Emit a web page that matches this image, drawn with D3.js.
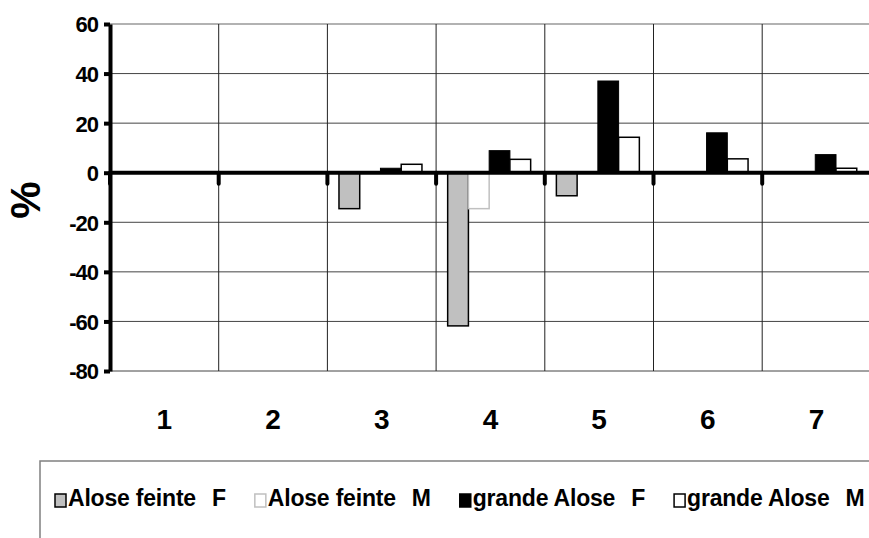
<!DOCTYPE html>
<html>
<head>
<meta charset="utf-8">
<script src="https://cdn.jsdelivr.net/npm/d3@7/dist/d3.min.js"></script>
<style>
  html, body { margin: 0; padding: 0; background: #fff; }
  svg { display: block; font-family: "Liberation Sans", Arial, sans-serif; font-weight: bold; }
</style>
</head>
<body>
<svg id="chart" width="869" height="538"></svg>
<script>
// Categories along the x axis
const categories = ["1", "2", "3", "4", "5", "6", "7"];

// Percentage change per series
const alosefeinteF = [0, 0, -14.5, -61.8, -9.3, 0, 0];
const alosefeinteM = [0, 0, 0, -14.5, 0, 0, 0];
const grandeAloseF = [0, 0, 1.8, 8.9, 37, 16.1, 7.3];
const grandeAloseM = [0, 0, 3.4, 5.4, 14.3, 5.6, 1.8];

// Series names and legend labels
const seriesKeys = ["afF", "afM", "gaF", "gaM"];
const seriesNames = ["Alose feinte", "Alose feinte", "grande Alose", "grande Alose"];
const seriesSex = ["F", "M", "F", "M"];

// Y axis ticks
const yTicks = [-80, -60, -40, -20, 0, 20, 40, 60];

const seriesValues = [alosefeinteF, alosefeinteM, grandeAloseF, grandeAloseM];
const seriesStyle = {
  afF: { fill: "#c0c0c0", stroke: "#000", sw: 1.5 },
  afM: { fill: "#fff", stroke: "#c0c0c0", sw: 1.5 },
  gaF: { fill: "#000", stroke: "#000", sw: 1 },
  gaM: { fill: "#fff", stroke: "#000", sw: 1.5 }
};

const svg = d3.select("#chart");
const plotLeft = 110, plotTop = 24, plotBottom = 371;
const step = 108.7;
const plotRight = plotLeft + step * categories.length;

const x = d3.scaleBand().domain(categories).range([plotLeft, plotRight]).padding(0);
const inner = d3.scaleBand().domain(seriesKeys).range([0, x.bandwidth()])
  .paddingInner(0).paddingOuter(0.62).align(0.45);
const y = d3.scaleLinear().domain([-80, 60]).range([plotBottom, plotTop]);

// Horizontal gridlines
svg.append("g").selectAll("line").data(yTicks).join("line")
  .attr("x1", plotLeft).attr("x2", plotRight)
  .attr("y1", d => y(d)).attr("y2", d => y(d))
  .attr("stroke", d => d === 60 ? "#999" : "#444")
  .attr("stroke-width", d => d === 60 ? 1.5 : 1);

// Vertical gridlines at category boundaries
svg.append("g").selectAll("line").data(categories.slice(1)).join("line")
  .attr("x1", d => x(d)).attr("x2", d => x(d))
  .attr("y1", plotTop).attr("y2", plotBottom)
  .attr("stroke", "#222").attr("stroke-width", 1);

// Bars
const rows = categories.map((c, i) => ({ c, vals: seriesKeys.map((k, j) => ({ k, v: seriesValues[j][i] })) }));
const groups = svg.append("g").selectAll("g").data(rows).join("g")
  .attr("transform", d => `translate(${x(d.c)},0)`);
groups.selectAll("rect").data(d => d.vals.filter(e => e.v !== 0)).join("rect")
  .attr("x", d => inner(d.k))
  .attr("width", inner.bandwidth())
  .attr("y", d => y(Math.max(0, d.v)))
  .attr("height", d => Math.abs(y(d.v) - y(0)))
  .attr("fill", d => seriesStyle[d.k].fill)
  .attr("stroke", d => seriesStyle[d.k].stroke)
  .attr("stroke-width", d => seriesStyle[d.k].sw);

// Zero line with category tick marks below it
svg.append("g").selectAll("line").data(categories).join("line")
  .attr("x1", d => x(d)).attr("x2", d => x(d))
  .attr("y1", y(0)).attr("y2", y(0) + 11)
  .attr("stroke", "#000").attr("stroke-width", 4).attr("stroke-linecap", "round");
svg.append("line")
  .attr("x1", plotLeft).attr("x2", plotRight)
  .attr("y1", y(0)).attr("y2", y(0))
  .attr("stroke", "#000").attr("stroke-width", 4);

// Y axis
const yAxis = svg.append("g").attr("transform", `translate(${plotLeft},0)`)
  .call(d3.axisLeft(y).tickValues(yTicks).tickFormat(d => String(d))
    .tickSize(6).tickPadding(6).tickSizeOuter(0));
yAxis.select(".domain").attr("stroke", "#000").attr("stroke-width", 4);
yAxis.selectAll(".tick line").attr("stroke", "#000").attr("stroke-width", 4);
yAxis.selectAll(".tick text")
  .attr("font-size", 22).attr("font-weight", "bold")
  .attr("font-family", "'Liberation Sans', Arial, sans-serif")
  .attr("letter-spacing", "-1px")
  .attr("fill", "#000").attr("dy", "0.36em");

// Y axis title
svg.append("text")
  .attr("transform", `translate(39.5,${y(-11)}) rotate(-90)`)
  .attr("text-anchor", "middle")
  .attr("font-size", 42)
  .text("%");

// Category labels
svg.append("g").selectAll("text").data(categories).join("text")
  .attr("x", d => x(d) + x.bandwidth() / 2)
  .attr("y", 429)
  .attr("text-anchor", "middle")
  .attr("font-size", 28)
  .text(d => d);

// Legend
svg.append("rect")
  .attr("x", 40).attr("y", 461).attr("width", 900).attr("height", 200)
  .attr("fill", "none").attr("stroke", "#808080").attr("stroke-width", 1.5);

let lx = 55;
seriesKeys.forEach((k, i) => {
  const st = seriesStyle[k];
  svg.append("rect")
    .attr("x", lx).attr("y", 494).attr("width", 11).attr("height", 13)
    .attr("fill", st.fill).attr("stroke", k === "gaF" ? "#000" : st.stroke)
    .attr("stroke-width", 1.5);
  const t = svg.append("text")
    .attr("x", lx + 13).attr("y", 506)
    .attr("font-size", 23)
    .attr("letter-spacing", "-0.2px");
  t.append("tspan").text(seriesNames[i]);
  t.append("tspan").attr("dx", 16).text(seriesSex[i]);
  lx += 13 + t.node().getComputedTextLength() + 16 + 29;
});
</script>
</body>
</html>
